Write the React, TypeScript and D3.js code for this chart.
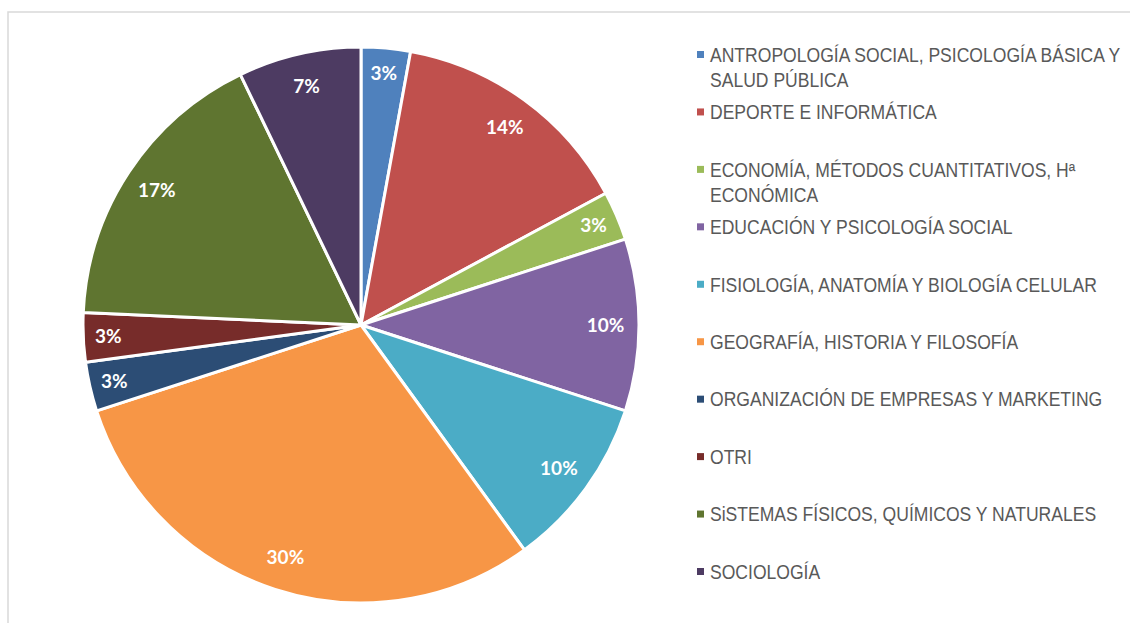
import React from 'react'
import * as d3 from 'd3'

const categories = [
  'ANTROPOLOGÍA SOCIAL, PSICOLOGÍA BÁSICA Y|SALUD PÚBLICA',
  'DEPORTE E INFORMÁTICA',
  'ECONOMÍA, MÉTODOS CUANTITATIVOS, Hª|ECONÓMICA',
  'EDUCACIÓN Y PSICOLOGÍA SOCIAL',
  'FISIOLOGÍA, ANATOMÍA Y BIOLOGÍA CELULAR',
  'GEOGRAFÍA, HISTORIA Y FILOSOFÍA',
  'ORGANIZACIÓN DE EMPRESAS Y MARKETING',
  'OTRI',
  'SiSTEMAS FÍSICOS, QUÍMICOS Y NATURALES',
  'SOCIOLOGÍA',
]
const values = [2, 10, 2, 7, 7, 21, 2, 2, 12, 5]
const colors = ['#4f81bd', '#c0504d', '#9bbb59', '#8064a2', '#4bacc6', '#f79646', '#2c4d75', '#772c2a', '#5f7530', '#4d3b62']

const width = 1130
const height = 623
const cx = 361
const cy = 325
const radius = 278

const App: React.FC = () => {
  const total = d3.sum(values)
  const pie = d3.pie<number>().sort(null).value((d) => d)
  const arcs = pie(values)
  const arc = d3.arc<d3.PieArcDatum<number>>().innerRadius(0).outerRadius(radius)
  // small slices get their label a bit further out, like the original
  const labelPos = (a: d3.PieArcDatum<number>) => {
    const r = radius * (a.data / total < 0.05 ? 0.91 : 0.88)
    return d3.arc<d3.PieArcDatum<number>>().innerRadius(r).outerRadius(r).centroid(a)
  }
  const fmt = d3.format('.0%')
  const legendY = d3.scaleLinear().domain([0, 9]).range([55, 572])

  return (
    <svg width={width} height={height} style={{ position: 'absolute', left: 0, top: 0 }}>
      <rect x={8} y={12} width={1140} height={640} fill="#fff" stroke="#d9d9d9" strokeWidth={1.5} />
      <g transform={`translate(${cx},${cy})`}>
        {arcs.map((a, i) => (
          <path key={i} d={arc(a) || ''} fill={colors[i]} stroke="#fff" strokeWidth={3} strokeLinejoin="round" />
        ))}
        {arcs.map((a, i) => {
          const [x, y] = labelPos(a)
          return (
            <text key={i} x={x} y={y} dy="0.35em" textAnchor="middle" fill="#fff"
              fontFamily="Lato, 'Open Sans', sans-serif" fontWeight="bold" fontSize={19}>
              {fmt(a.data / total)}
            </text>
          )
        })}
      </g>
      <g fontFamily="'Liberation Sans', Arial, sans-serif" fontSize={19.5} fill="#595959">
        {categories.map((c, i) => {
          const y = legendY(i)
          const lines = c.split('|')
          return (
            <g key={i}>
              <rect x={697} y={y - 4} width={7} height={7} fill={colors[i]} />
              {lines.map((l, j) => (
                <text key={j} transform={`translate(710,${y + j * 25}) scale(0.9,1)`} dy="0.35em">{l}</text>
              ))}
            </g>
          )
        })}
      </g>
    </svg>
  )
}

export default App
